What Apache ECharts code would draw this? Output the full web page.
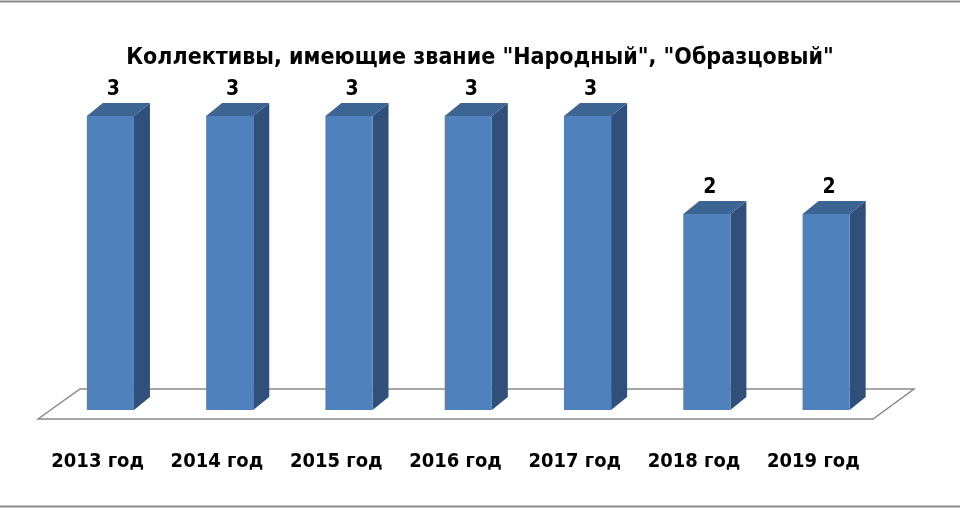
<!DOCTYPE html>
<html>
<head>
<meta charset="utf-8">
<script src="https://cdn.jsdelivr.net/npm/echarts@6/dist/echarts.min.js"></script>
<style>
html,body{margin:0;padding:0;background:#fff;}
#chart{width:960px;height:510px;}
</style>
</head>
<body>
<div id="chart"></div>
<script>
const titleText = 'Коллективы, имеющие звание "Народный", "Образцовый"';
const categories = ['2013 год', '2014 год', '2015 год', '2016 год', '2017 год', '2018 год', '2019 год'];
const values = [3, 3, 3, 3, 3, 2, 2];

const FONT = "'Liberation Sans Narrow', 'DejaVu Sans Condensed', 'Noto Sans', sans-serif";
const FRONT = '#4F81BD', SIDE = '#30507A', TOP = '#3C6594';
const DX = 16, DY = 13;

const chart = echarts.init(document.getElementById('chart'), null, {renderer: 'canvas'});

function renderBar(params, api) {
  const idx = api.value(0), v = api.value(1);
  const top = api.coord([idx, v]);
  const base = api.coord([idx, 0]);
  const band = api.size([1, 0])[0];
  const w = band * 0.395;
  const cx = top[0] + band * 0.107;
  const x0 = cx - w / 2, x1 = cx + w / 2;
  const yt = top[1], yb = base[1];
  return {
    type: 'group',
    children: [
      {type: 'polygon', shape: {points: [[x1, yt], [x1 + DX, yt - DY], [x1 + DX, yb - DY], [x1, yb]]}, style: {fill: SIDE}},
      {type: 'rect', shape: {x: x0, y: yt, width: w, height: yb - yt}, style: {fill: FRONT}},
      {type: 'polygon', shape: {points: [[x0, yt], [x0 + DX, yt - DY], [x1 + DX, yt - DY], [x1, yt]]}, style: {fill: TOP}},
      {type: 'text', style: {x: x0 + (w + DX) / 2 - 5, y: yt - DY - 13, text: String(v), align: 'center', verticalAlign: 'middle', fill: '#000', font: 'bold 21px ' + FONT}}
    ]
  };
}

function renderFloor(params, api) {
  const cs = params.coordSys;
  const yb = api.coord([0, 0])[1];
  const yf = yb + 9, yk = yb - 21;
  const xl = cs.x, xr = cs.x + cs.width;
  return {
    type: 'polygon',
    shape: {points: [[xl, yf], [xl + 42, yk], [xr + 41, yk], [xr, yf]]},
    style: {fill: 'none', stroke: '#8a8a8a', lineWidth: 1.5}
  };
}

chart.setOption({
  animation: false,
  backgroundColor: '#fff',
  title: {
    text: titleText, left: 'center', top: 42,
    textStyle: {fontFamily: FONT, fontSize: 23, fontWeight: 'bold', color: '#000'}
  },
  grid: {left: 38, right: 87, top: 116, bottom: 100},
  xAxis: {
    type: 'category', data: categories, boundaryGap: true,
    axisLine: {show: false}, axisTick: {show: false}, splitLine: {show: false},
    axisLabel: {interval: 0, margin: 42, fontFamily: FONT, fontSize: 20, fontWeight: 'bold', color: '#000'}
  },
  yAxis: {type: 'value', min: 0, max: 3, show: false},
  graphic: [
    {type: 'rect', shape: {x: 0, y: 0.5, width: 960, height: 2}, style: {fill: '#8c8c8c'}},
    {type: 'rect', shape: {x: 0, y: 505.5, width: 960, height: 2}, style: {fill: '#8c8c8c'}}
  ],
  series: [
    {type: 'custom', renderItem: renderFloor, data: [[0, 0]], z: 1, silent: true},
    {type: 'custom', renderItem: renderBar, data: values.map((v, i) => [i, v]), z: 2,
     encode: {x: 0, y: 1}}
  ]
});
</script>
</body>
</html>
